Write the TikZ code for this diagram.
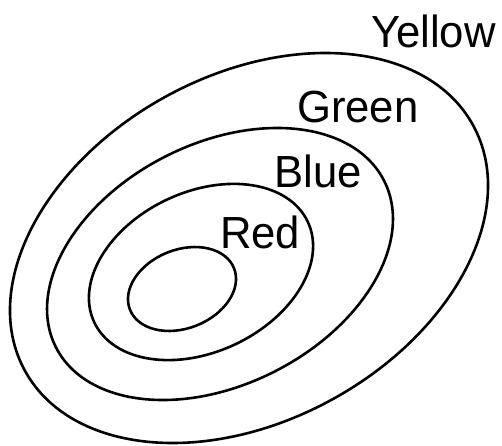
\documentclass[tikz,border=0pt]{standalone}
\usepackage{fontspec}
\setmainfont{Liberation Sans}
\begin{document}
\begin{tikzpicture}[x=1pt,y=1pt,
  ring/.style={draw=black,line width=2.6pt},
  lbl/.style={anchor=base west,inner sep=0pt,xscale=0.97,font=\fontsize{45}{45}\selectfont}]
\useasboundingbox (0,0) rectangle (502,445);
\draw[ring,rotate around={28.7:(249,197)}] (249,197) ellipse [x radius=255.5,y radius=172.8];
\draw[ring,rotate around={26.9:(220,181)}] (220,181) ellipse [x radius=184,y radius=120.6];
\draw[ring,rotate around={25.2:(201,173)}] (201,173) ellipse [x radius=118,y radius=80];
\draw[ring,rotate around={21.7:(182,156)}] (182,156) ellipse [x radius=56,y radius=39.3];
\node[lbl] (yellow) at (371,397) {Yellow};
\node[lbl] (green) at (297,322) {Green};
\node[lbl] (blue) at (274,258) {Blue};
\node[lbl] (red) at (220,197) {Red};
\end{tikzpicture}
\end{document}
